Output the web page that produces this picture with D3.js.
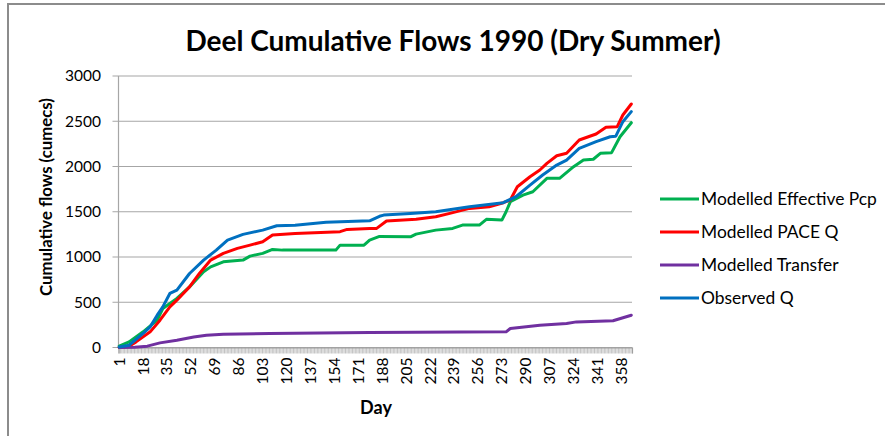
<!DOCTYPE html>
<html>
<head>
<meta charset="utf-8">
<script src="https://cdn.jsdelivr.net/npm/d3@7"></script>
<style>
  body { margin: 0; background: #fff; }
  text { font-family: Lato, "Open Sans", sans-serif; fill: #000; }
</style>
</head>
<body>
<svg id="chart" width="885" height="436"></svg>
<script>
// values: (day, cumulative flow) break points
var effDays = [1, 8, 18, 28, 32, 42, 51, 61, 66, 75, 89, 94, 103, 110, 117, 155, 158, 175, 179, 186, 208, 212, 226, 238, 245, 257, 262, 273, 276, 279, 288, 295, 305, 314, 324, 331, 338, 343, 351, 357, 365]
var effVals = [15, 62, 173, 302, 431, 542, 670, 836, 891, 947, 966, 1010, 1040, 1084, 1076, 1076, 1131, 1131, 1187, 1227, 1223, 1253, 1297, 1316, 1353, 1353, 1416, 1408, 1500, 1610, 1684, 1721, 1869, 1869, 1998, 2071, 2080, 2146, 2153, 2329, 2484]

var paceDays = [1, 8, 13, 23, 30, 37, 42, 51, 58, 66, 75, 85, 94, 103, 110, 126, 158, 163, 179, 184, 191, 212, 226, 236, 250, 264, 274, 279, 284, 293, 300, 305, 312, 319, 328, 340, 347, 355, 359, 365]
var paceVals = [0, 15, 62, 173, 302, 449, 523, 670, 818, 966, 1040, 1095, 1131, 1168, 1242, 1261, 1280, 1305, 1316, 1316, 1397, 1416, 1445, 1482, 1537, 1555, 1600, 1629, 1776, 1887, 1961, 2035, 2119, 2146, 2293, 2359, 2433, 2440, 2569, 2691]

var transDays = [1, 12, 21, 30, 42, 54, 63, 75, 108, 179, 276, 279, 300, 319, 326, 352, 365]
var transVals = [0, 2, 15, 51, 81, 117, 136, 147, 155, 165, 173, 210, 247, 265, 283, 295, 357]

var obsDays = [1, 8, 18, 23, 28, 32, 37, 42, 51, 61, 70, 78, 89, 103, 113, 126, 148, 179, 186, 189, 208, 226, 250, 274, 283, 293, 302, 312, 319, 328, 340, 350, 354, 359, 365]
var obsVals = [5, 25, 155, 228, 357, 449, 597, 634, 818, 966, 1076, 1187, 1250, 1297, 1345, 1350, 1383, 1400, 1450, 1463, 1482, 1500, 1555, 1600, 1666, 1795, 1906, 2016, 2071, 2200, 2274, 2329, 2335, 2495, 2606]

var seriesNames = ["Modelled Effective Pcp", "Modelled PACE Q", "Modelled Transfer", "Observed Q"]
var seriesColors = ["#00b050", "#ff0000", "#7030a0", "#0070c0"]
var yTicks = [0, 500, 1000, 1500, 2000, 2500, 3000]
var xTickDays = [1, 18, 35, 52, 69, 86, 103, 120, 137, 154, 171, 188, 205, 222, 239, 256, 273, 290, 307, 324, 341, 358]
var nDays = 365

var series = [
  {name: seriesNames[0], color: seriesColors[0], days: effDays, vals: effVals},
  {name: seriesNames[1], color: seriesColors[1], days: paceDays, vals: paceVals},
  {name: seriesNames[2], color: seriesColors[2], days: transDays, vals: transVals},
  {name: seriesNames[3], color: seriesColors[3], days: obsDays, vals: obsVals}
]

var svg = d3.select("#chart")

// chart frame
svg.append("rect").attr("x", 8).attr("y", 4).attr("width", 900).attr("height", 460)
  .style("fill", "none").style("stroke", "#8c8c8c").style("stroke-width", 2)

var plot = {left: 118.5, right: 632, top: 76, bottom: 347.5}

var x = d3.scaleLinear().domain([0.5, nDays + 0.5]).range([plot.left, plot.right])
var y = d3.scaleLinear().domain([0, 3000]).range([plot.bottom, plot.top])

// gridlines
svg.append("g").selectAll("line").data(yTicks).enter().append("line")
  .attr("x1", plot.left - 6).attr("x2", plot.right)
  .attr("y1", d => y(d)).attr("y2", d => y(d))
  .style("stroke", "#a6a6a6").style("stroke-width", 1.2)

// y axis line + labels
svg.append("line").attr("x1", plot.left).attr("x2", plot.left)
  .attr("y1", plot.top).attr("y2", plot.bottom).style("stroke", "#a6a6a6").style("stroke-width", 1.2)

svg.append("g").selectAll("text").data(yTicks).enter().append("text")
  .attr("x", 101).attr("y", d => y(d)).attr("dy", "0.35em")
  .attr("text-anchor", "end").style("font-size", "15.5px")
  .text(d => d)

// x axis with a tick at every category boundary
var xAxis = d3.axisBottom(x).tickValues(d3.range(0.5, nDays + 1, 1)).tickSize(6).tickFormat("")
var xg = svg.append("g").attr("transform", "translate(0," + plot.bottom + ")").call(xAxis)
xg.select(".domain").style("stroke", "#a6a6a6").style("stroke-width", 1.2)
xg.selectAll(".tick line").style("stroke", "#9a9a9a").style("stroke-width", 0.6)

svg.append("g").selectAll("text").data(xTickDays).enter().append("text")
  .attr("transform", d => "translate(" + x(d) + "," + (plot.bottom + 10) + ") rotate(-90)")
  .attr("dy", "0.35em").attr("text-anchor", "end").style("font-size", "15.5px")
  .text(d => d)

// lines
var line = d3.line().x(d => x(d[0])).y(d => y(d[1]))
svg.append("g").selectAll("path").data(series).enter().append("path")
  .attr("d", s => line(d3.zip(s.days, s.vals)))
  .style("fill", "none").style("stroke", s => s.color).style("stroke-width", 3)
  .style("stroke-linejoin", "round").style("stroke-linecap", "round")

// title & axis titles
svg.append("text").attr("x", 453).attr("y", 51).attr("text-anchor", "middle")
  .style("font-size", "28px").style("font-weight", "bold")
  .text("Deel Cumulative Flows 1990 (Dry Summer)")

svg.append("text").attr("transform", "translate(46,197) rotate(-90)")
  .attr("text-anchor", "middle").attr("dy", "0.35em")
  .style("font-size", "16.8px").style("font-weight", "bold")
  .text("Cumulative flows (cumecs)")

svg.append("text").attr("x", 376).attr("y", 414).attr("text-anchor", "middle")
  .style("font-size", "18px").style("font-weight", "bold").text("Day")

// legend
var lg = svg.append("g").selectAll("g").data(series).enter().append("g")
  .attr("transform", (s, i) => "translate(660," + [199, 232, 265, 298][i] + ")")
lg.append("line").attr("x1", 0).attr("x2", 39)
  .style("stroke", s => s.color).style("stroke-width", 3)
lg.append("text").attr("x", 41).attr("dy", "0.35em").style("font-size", "17.4px")
  .text(s => s.name)
</script>
</body>
</html>
